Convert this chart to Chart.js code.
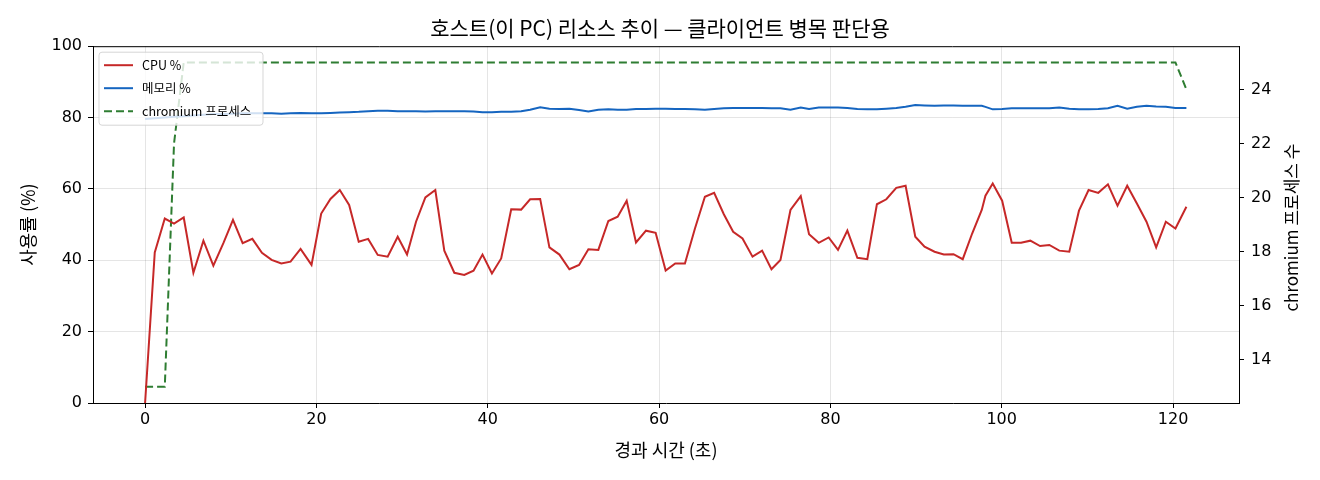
<!DOCTYPE html>
<html>
<head>
<meta charset="utf-8">
<script src="https://cdn.jsdelivr.net/npm/chart.js@4.4.1/dist/chart.umd.min.js"></script>
<style>
  body { margin: 0; background: #fff; }
  #wrap { width: 1320px; height: 480px; }
</style>
</head>
<body>
<div id="wrap"><canvas id="chart" width="1320" height="480"></canvas></div>
<script>
// elapsed seconds of each sample
var times = [0.00, 1.13, 2.30, 3.38, 4.51, 5.64, 6.81, 7.97, 9.14, 10.26,
    11.39, 12.52, 13.64, 14.77, 15.90, 16.98, 18.15, 19.43, 20.56, 21.64,
    22.73, 23.82, 24.94, 26.04, 27.16, 28.32, 29.49, 30.58, 31.63, 32.72,
    33.88, 34.93, 36.10, 37.26, 38.34, 39.39, 40.49, 41.57, 42.74, 43.90,
    44.95, 46.12, 47.20, 48.37, 49.53, 50.66, 51.75, 52.91, 54.08, 55.17,
    56.22, 57.31, 58.47, 59.60, 60.77, 61.89, 63.02, 64.19, 65.35, 66.43,
    67.56, 68.65, 69.74, 70.91, 72.03, 73.12, 74.17, 75.34, 76.54, 77.51,
    78.64, 79.80, 80.89, 81.98, 83.15, 84.31, 85.43, 86.53, 87.69, 88.78,
    89.91, 90.99, 92.16, 93.24, 94.37, 95.45, 96.55, 97.67, 98.10, 98.95,
    100.05, 101.17, 102.26, 103.34, 104.48, 105.56, 106.72, 107.89, 109.02, 110.14,
    111.27, 112.40, 113.52, 114.65, 115.78, 116.90, 118.03, 119.16, 120.28, 121.56];

var cpuPct = [0, 42.2, 51.7, 50.3, 52.0, 36.5, 45.5, 38.5, 44.8, 51.3,
    44.8, 46.0, 42.1, 40.1, 39.1, 39.6, 43.2, 38.7, 53.1, 57.2,
    59.7, 55.5, 45.2, 46.0, 41.5, 41.0, 46.6, 41.6, 50.8, 57.6,
    59.7, 42.7, 36.5, 35.9, 37.1, 41.6, 36.3, 40.5, 54.3, 54.2,
    57.1, 57.2, 43.6, 41.6, 37.5, 38.7, 43.1, 42.9, 51.0, 52.2,
    56.7, 45.0, 48.3, 47.7, 37.1, 39.1, 39.1, 48.9, 57.8, 58.9,
    52.9, 48.0, 46.1, 41.0, 42.7, 37.5, 40.1, 54.1, 58.0, 47.3,
    44.9, 46.4, 42.9, 48.3, 40.7, 40.3, 55.7, 57.1, 60.3, 60.9,
    46.6, 43.8, 42.4, 41.6, 41.7, 40.3, 47.5, 54.1, 58.1, 61.5,
    56.7, 44.9, 44.9, 45.5, 44.0, 44.3, 42.7, 42.4, 53.9, 59.7,
    58.9, 61.3, 55.3, 60.9, 55.9, 50.8, 43.6, 50.8, 48.9, 55.0];

var memPct = [79.6, 79.8, 80.0, 80.2, 80.4, 80.6, 80.8, 81.0, 81.0, 81.1,
    81.2, 81.2, 81.2, 81.2, 81.1, 81.2, 81.3, 81.2, 81.2, 81.3,
    81.4, 81.5, 81.6, 81.8, 81.9, 81.9, 81.8, 81.8, 81.8, 81.7,
    81.8, 81.8, 81.8, 81.8, 81.7, 81.5, 81.5, 81.6, 81.6, 81.8,
    82.2, 82.9, 82.5, 82.4, 82.5, 82.1, 81.7, 82.2, 82.3, 82.2,
    82.2, 82.4, 82.4, 82.5, 82.5, 82.4, 82.4, 82.3, 82.2, 82.4,
    82.6, 82.7, 82.7, 82.7, 82.7, 82.6, 82.6, 82.2, 82.8, 82.4,
    82.8, 82.8, 82.8, 82.7, 82.4, 82.3, 82.3, 82.5, 82.7, 83.0,
    83.5, 83.4, 83.3, 83.4, 83.4, 83.3, 83.3, 83.3, 83.0, 82.3,
    82.4, 82.6, 82.6, 82.6, 82.6, 82.6, 82.8, 82.5, 82.3, 82.3,
    82.4, 82.6, 83.3, 82.5, 83.0, 83.3, 83.1, 83.0, 82.7, 82.7];

var procCount = [13, 13, 13, 22, 25, 25, 25, 25, 25, 25,
    25, 25, 25, 25, 25, 25, 25, 25, 25, 25,
    25, 25, 25, 25, 25, 25, 25, 25, 25, 25,
    25, 25, 25, 25, 25, 25, 25, 25, 25, 25,
    25, 25, 25, 25, 25, 25, 25, 25, 25, 25,
    25, 25, 25, 25, 25, 25, 25, 25, 25, 25,
    25, 25, 25, 25, 25, 25, 25, 25, 25, 25,
    25, 25, 25, 25, 25, 25, 25, 25, 25, 25,
    25, 25, 25, 25, 25, 25, 25, 25, 25, 25,
    25, 25, 25, 25, 25, 25, 25, 25, 25, 25,
    25, 25, 25, 25, 25, 25, 25, 25, 25, 24];

var xTicks = [0, 20, 40, 60, 80, 100, 120];
var yTicks = [0, 20, 40, 60, 80, 100];
var y2Ticks = [14, 16, 18, 20, 22, 24];

var seriesNames = ['CPU %', '메모리 %', 'chromium 프로세스'];
var seriesColors = ['#c62828', '#1565c0', '#2e7d32'];

var FONT = "'Noto Sans CJK KR', 'DejaVu Sans', sans-serif";
var TICK_FONT = "'DejaVu Sans', 'Noto Sans CJK KR', sans-serif";
Chart.defaults.color = '#000';
Chart.defaults.font.family = FONT;

function pairs(vals) {
    return times.map(function (t, i) { return { x: t, y: vals[i] }; });
}

function fixedTicks(list) {
    return function (scale) {
        scale.ticks = list.map(function (v) { return { value: v }; });
    };
}

// frame top line, right axis title, and the boxed legend inside the plot
var extras = {
    id: 'extras',
    afterDraw: function (chart) {
        var ctx = chart.ctx;
        var a = chart.chartArea;
        ctx.save();
        ctx.strokeStyle = '#000';
        ctx.lineWidth = 1;
        ctx.beginPath();
        ctx.moveTo(a.left, a.top + 0.5);
        ctx.lineTo(a.right, a.top + 0.5);
        ctx.stroke();

        // right y label, reading bottom to top
        ctx.translate(1292, (a.top + a.bottom) / 2 + 3);
        ctx.rotate(-Math.PI / 2);
        ctx.font = '17px ' + FONT;
        ctx.fillStyle = '#000';
        ctx.textAlign = 'center';
        ctx.textBaseline = 'middle';
        ctx.fillText('chromium 프로세스 수', 0, 0);
        ctx.restore();

        // legend
        var bx = a.left + 6, by = a.top + 6, bw = 164, bh = 73;
        ctx.save();
        ctx.beginPath();
        ctx.roundRect(bx, by, bw, bh, 3);
        ctx.fillStyle = 'rgba(255,255,255,0.8)';
        ctx.fill();
        ctx.strokeStyle = 'rgba(204,204,204,0.8)';
        ctx.lineWidth = 1;
        ctx.stroke();
        ctx.font = '12.5px ' + FONT;
        ctx.textBaseline = 'middle';
        seriesNames.forEach(function (name, i) {
            var cy = by + 13 + i * 23;
            ctx.beginPath();
            ctx.setLineDash(i === 2 ? [8, 4] : []);
            ctx.strokeStyle = seriesColors[i];
            ctx.lineWidth = 2;
            ctx.moveTo(bx + 5, cy);
            ctx.lineTo(bx + 34, cy);
            ctx.stroke();
            ctx.setLineDash([]);
            ctx.fillStyle = '#000';
            ctx.fillText(name, bx + 43, cy);
        });
        ctx.restore();
    }
};

var ctx = document.getElementById('chart').getContext('2d');
new Chart(ctx, {
    type: 'line',
    data: {
        datasets: [{
            label: seriesNames[0],
            data: pairs(cpuPct),
            borderColor: seriesColors[0],
            borderWidth: 2,
            pointRadius: 0,
            yAxisID: 'y'
        }, {
            label: seriesNames[1],
            data: pairs(memPct),
            borderColor: seriesColors[1],
            borderWidth: 2,
            pointRadius: 0,
            yAxisID: 'y'
        }, {
            label: seriesNames[2],
            data: pairs(procCount),
            borderColor: seriesColors[2],
            borderWidth: 2,
            borderDash: [8, 4],
            pointRadius: 0,
            yAxisID: 'y2'
        }]
    },
    options: {
        responsive: false,
        animation: false,
        layout: { padding: 0 },
        plugins: {
            legend: { display: false },
            tooltip: { enabled: false },
            title: {
                display: true,
                text: '호스트(이 PC) 리소스 추이 — 클라이언트 병목 판단용',
                font: { size: 21, weight: 'normal' },
                padding: { top: 15, bottom: 6 }
            }
        },
        scales: {
            x: {
                type: 'linear',
                min: -6.08,
                max: 127.7,
                afterFit: function (s) { s.height = 77; },
                afterBuildTicks: fixedTicks(xTicks),
                grid: { color: 'rgba(0,0,0,0.1)', tickColor: '#000', tickLength: 5 },
                border: { display: true, color: '#000', width: 1 },
                ticks: { font: { size: 16, family: TICK_FONT }, padding: 2, maxRotation: 0 },
                title: { display: true, text: '경과 시간 (초)', font: { size: 18 }, padding: { bottom: 19 } }
            },
            y: {
                position: 'left',
                min: 0,
                max: 100,
                afterFit: function (s) { s.width = 93; },
                afterBuildTicks: fixedTicks(yTicks),
                grid: { color: 'rgba(0,0,0,0.1)', tickColor: '#000', tickLength: 5 },
                border: { display: true, color: '#000', width: 1 },
                ticks: { font: { size: 16, family: TICK_FONT }, padding: 6 },
                title: { display: true, text: '사용률 (%)', font: { size: 18 }, padding: { top: 17 } }
            },
            y2: {
                position: 'right',
                min: 12.4,
                max: 25.6,
                afterFit: function (s) { s.width = 81; },
                afterBuildTicks: fixedTicks(y2Ticks),
                grid: { drawOnChartArea: false, tickColor: '#000', tickLength: 5 },
                border: { display: true, color: '#000', width: 1 },
                ticks: { font: { size: 16, family: TICK_FONT }, padding: 7 }
            }
        }
    },
    plugins: [extras]
});
</script>
</body>
</html>
